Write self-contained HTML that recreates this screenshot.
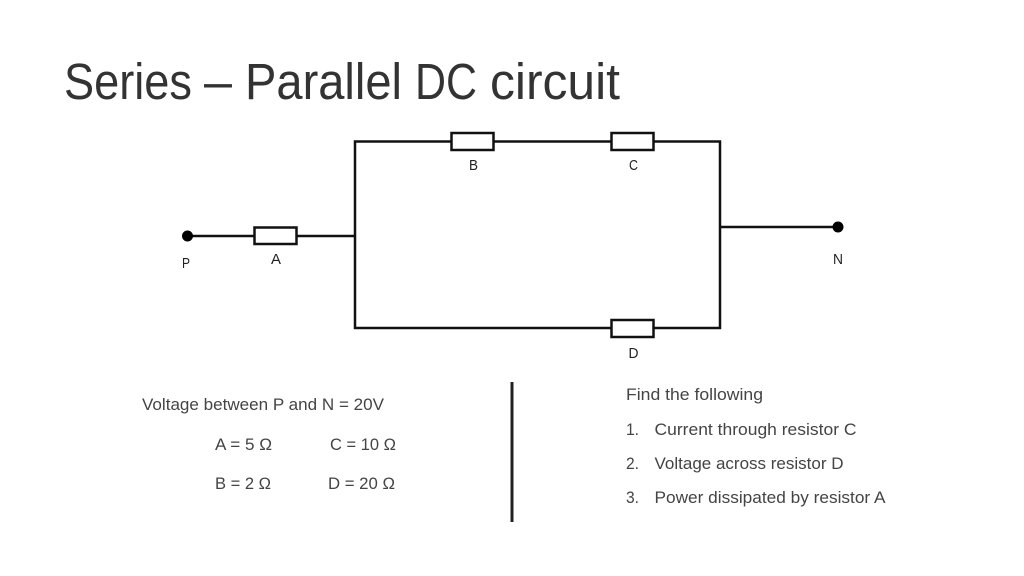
<!DOCTYPE html>
<html>
<head>
<meta charset="utf-8">
<title>Series – Parallel DC circuit</title>
<style>
html,body{margin:0;padding:0;background:#fff;width:1024px;height:576px;overflow:hidden}
svg{display:block}
text{font-family:"Liberation Sans",sans-serif;fill:#444}
.t{font-size:51px;fill:#333}
.l{font-size:15px;fill:#222}
.b{font-size:17px}
</style>
</head>
<body>
<svg width="1024" height="576" viewBox="0 0 1024 576" xmlns="http://www.w3.org/2000/svg">
<text class="t" x="64" y="99" textLength="128" lengthAdjust="spacingAndGlyphs">Series</text>
<text class="t" x="204" y="99" textLength="28" lengthAdjust="spacingAndGlyphs">–</text>
<text class="t" x="245" y="99" textLength="157" lengthAdjust="spacingAndGlyphs">Parallel</text>
<text class="t" x="415" y="99" textLength="62" lengthAdjust="spacingAndGlyphs">DC</text>
<text class="t" x="490" y="99" textLength="130" lengthAdjust="spacingAndGlyphs">circuit</text>

<g fill="none" stroke="#111" stroke-width="2.5">
<path d="M187 236H355"/>
<path d="M355 236V141.500H720V328H355V236"/>
<path d="M720 227H838"/>
<rect x="254.500" y="227.500" width="42" height="16.500" fill="#fff"/>
<rect x="451.500" y="133" width="42" height="17" fill="#fff"/>
<rect x="611.500" y="133" width="42" height="17" fill="#fff"/>
<rect x="611.500" y="320" width="42" height="17" fill="#fff"/>
</g>
<circle cx="187.500" cy="236" r="5.500" fill="#000"/>
<circle cx="838" cy="227" r="5.500" fill="#000"/>
<path d="M512 382V522" stroke="#222" stroke-width="3" fill="none"/>

<text class="l" x="186" y="268" text-anchor="middle" textLength="8" lengthAdjust="spacingAndGlyphs">P</text>
<text class="l" x="276" y="264" text-anchor="middle" textLength="10" lengthAdjust="spacingAndGlyphs">A</text>
<text class="l" x="473.500" y="170" text-anchor="middle" textLength="9" lengthAdjust="spacingAndGlyphs">B</text>
<text class="l" x="633.500" y="170" text-anchor="middle" textLength="9" lengthAdjust="spacingAndGlyphs">C</text>
<text class="l" x="633.500" y="358" text-anchor="middle" textLength="10" lengthAdjust="spacingAndGlyphs">D</text>
<text class="l" x="838" y="264" text-anchor="middle" textLength="10" lengthAdjust="spacingAndGlyphs">N</text>

<text class="b" x="142" y="410" textLength="242" lengthAdjust="spacingAndGlyphs">Voltage between P and N = 20V</text>
<text class="b" x="215" y="450" textLength="57" lengthAdjust="spacingAndGlyphs">A = 5 Ω</text>
<text class="b" x="330" y="450" textLength="66" lengthAdjust="spacingAndGlyphs">C = 10 Ω</text>
<text class="b" x="215" y="489" textLength="56" lengthAdjust="spacingAndGlyphs">B = 2 Ω</text>
<text class="b" x="328" y="489" textLength="67" lengthAdjust="spacingAndGlyphs">D = 20 Ω</text>

<text class="b" x="626" y="400" textLength="137" lengthAdjust="spacingAndGlyphs">Find the following</text>
<text class="b" x="626" y="435" textLength="13" lengthAdjust="spacingAndGlyphs">1.</text>
<text class="b" x="654.500" y="435" textLength="202" lengthAdjust="spacingAndGlyphs">Current through resistor C</text>
<text class="b" x="626" y="469" textLength="13" lengthAdjust="spacingAndGlyphs">2.</text>
<text class="b" x="654.500" y="469" textLength="189" lengthAdjust="spacingAndGlyphs">Voltage across resistor D</text>
<text class="b" x="626" y="503" textLength="13" lengthAdjust="spacingAndGlyphs">3.</text>
<text class="b" x="654.500" y="503" textLength="231" lengthAdjust="spacingAndGlyphs">Power dissipated by resistor A</text>
</svg>
</body>
</html>
